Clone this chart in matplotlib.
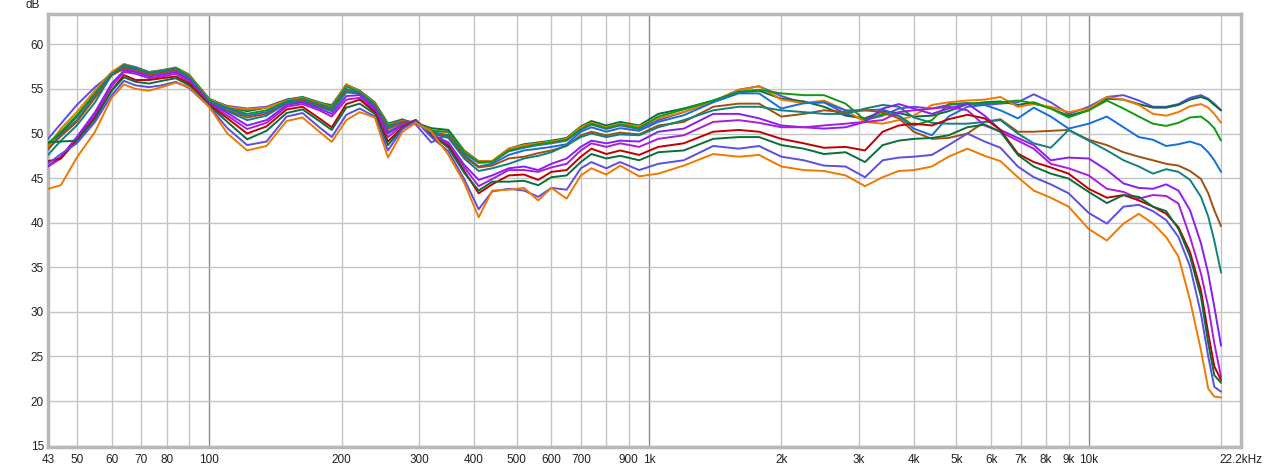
import matplotlib
matplotlib.use("Agg")
import matplotlib.pyplot as plt
from matplotlib.ticker import FixedLocator, NullLocator

# frequency points (Hz) shared by all traces
freqs = [43, 46, 50, 55, 60, 64, 68, 73, 78, 84,
         90, 100, 110, 122, 135, 150, 163, 178, 190, 205,
         220, 238, 255, 275, 295, 320, 350, 380, 410, 440,
         480, 520, 560, 600, 650, 700, 740, 800, 860, 950,
         1050, 1200, 1400, 1600, 1780, 2000, 2250, 2500, 2800, 3100,
         3400, 3700, 4000, 4400, 4800, 5300, 5800, 6300, 6900, 7500,
         8200, 9000, 10000, 11000, 12000, 13000, 14000, 15000, 16000, 17000,
         18000, 18700, 19300, 20000]

# SPL (dB) of each trace
slateblue_a = [49.4, 51.1, 53.2, 55.2, 56.7, 57.2, 57.1, 56.6, 56.8, 57.1,
               56.4, 53.8, 53.1, 52.8, 53.0, 53.8, 54.0, 53.4, 53.2, 55.4,
               54.6, 53.3, 51.1, 51.6, 51.0, 49.0, 49.9, 47.8, 46.7, 46.8,
               48.0, 48.4, 48.7, 48.9, 49.2, 50.4, 51.0, 50.5, 50.9, 50.5,
               51.5, 52.4, 53.6, 54.9, 55.3, 54.2, 53.4, 53.5, 52.2, 51.5,
               52.0, 52.8, 53.0, 52.8, 53.2, 53.4, 53.2, 53.35, 53.5, 54.4,
               53.5, 52.2, 53.0, 54.1, 54.3, 53.7, 53.0, 53.0, 53.3, 54.0,
               54.3, 53.9, 53.35, 52.6]
dkgreen_a = [48.7, 50.0, 51.9, 54.5, 56.7, 57.75, 57.45, 56.9, 57.1, 57.4,
             56.6, 53.9, 53.0, 52.5, 52.9, 53.8, 54.1, 53.5, 53.1, 55.5,
             54.8, 53.5, 51.1, 51.5, 51.2, 50.6, 50.4, 48.1, 46.9, 46.9,
             48.3, 48.8, 49.0, 49.2, 49.5, 50.8, 51.4, 50.9, 51.3, 50.9,
             52.2, 52.8, 53.7, 54.6, 54.8, 53.9, 53.6, 53.0, 52.0, 51.7,
             52.5, 52.3, 51.9, 52.0, 52.5, 53.3, 53.5, 53.6, 53.2, 53.5,
             52.8, 52.0, 52.6, 53.9, 53.8, 53.3, 52.9, 52.9, 53.2, 53.8,
             54.1, 53.8, 53.2, 52.6]
orange_a = [48.5, 50.55, 52.4, 54.85, 56.9, 57.8, 57.4, 56.85, 57.05, 57.35,
            56.5, 53.8, 53.0, 52.7, 52.9, 53.7, 54.0, 53.4, 53.0, 55.5,
            54.7, 53.4, 51.0, 51.4, 51.1, 50.4, 50.1, 48.0, 46.9, 46.9,
            48.3, 48.7, 48.9, 49.1, 49.4, 50.7, 51.2, 50.7, 51.1, 50.8,
            51.7, 52.4, 53.6, 54.9, 55.3, 53.8, 53.4, 53.7, 52.6, 51.3,
            51.1, 51.5, 52.0, 53.2, 53.5, 53.7, 53.8, 54.1, 53.0, 53.3,
            53.0, 52.4, 52.8, 54.1, 53.8, 53.2, 52.2, 52.0, 52.4, 53.05,
            53.3, 52.9, 52.2, 51.2]
green = [48.9, 50.2, 52.05, 54.5, 56.7, 57.55, 57.3, 56.8, 57.0, 57.3,
         56.4, 53.7, 52.9, 52.2, 52.6, 53.6, 53.9, 53.3, 52.9, 55.3,
         54.6, 53.3, 50.9, 51.3, 51.2, 50.3, 50.2, 47.9, 46.8, 46.8,
         48.1, 48.5, 48.8, 49.0, 49.3, 50.5, 51.1, 50.6, 51.0, 50.6,
         51.9, 52.7, 53.7, 54.7, 54.9, 54.5, 54.3, 54.3, 53.35, 51.5,
         52.2, 52.0, 50.9, 51.5, 53.3, 53.4, 53.35, 53.5, 53.7, 53.4,
         52.8, 51.8, 52.6, 53.7, 52.8, 51.9, 51.1, 50.85, 51.2, 51.8,
         51.9, 51.3, 50.6, 49.2]
blue = [48.2, 49.8, 51.5, 54.2, 56.6, 57.45, 57.2, 56.7, 56.9, 57.2,
        56.3, 53.6, 52.8, 52.0, 52.4, 53.5, 53.8, 53.2, 52.7, 55.0,
        54.5, 53.2, 50.7, 51.3, 51.2, 50.2, 49.8, 47.6, 46.3, 46.6,
        47.6, 48.1, 48.3, 48.5, 48.8, 50.2, 50.7, 50.2, 50.6, 50.3,
        51.3, 52.05, 53.5, 54.5, 54.5, 52.8, 53.4, 53.5, 52.6, 52.6,
        52.7, 52.0, 50.55, 49.8, 51.9, 53.0, 53.2, 52.6, 51.7, 52.9,
        51.9, 50.55, 51.1, 51.9, 50.7, 49.6, 49.3, 48.6, 48.8, 49.1,
        48.7, 47.9, 47.0, 45.7]
brown = [48.3, 49.7, 51.3, 54.0, 56.5, 57.3, 57.1, 56.6, 56.8, 57.1,
         56.2, 53.5, 52.6, 51.8, 52.2, 53.4, 53.7, 53.1, 52.6, 54.8,
         54.4, 53.1, 50.5, 51.2, 51.3, 50.1, 49.7, 47.4, 46.2, 46.4,
         47.2, 47.4, 47.8, 48.1, 48.6, 49.8, 50.2, 49.8, 50.1, 49.9,
         50.9, 51.3, 53.0, 53.35, 53.35, 51.9, 52.2, 52.6, 52.4, 52.6,
         52.4, 51.7, 50.2, 49.4, 49.5, 50.0, 51.3, 51.6, 50.2, 50.2,
         50.3, 50.4, 49.3, 48.7, 47.9, 47.4, 47.0, 46.6, 46.4, 45.8,
         44.9, 43.3, 41.4, 39.6]
teal = [47.6, 49.2, 50.9, 53.5, 56.6, 57.7, 57.4, 56.8, 57.0, 57.3,
        56.2, 53.5, 52.5, 51.5, 52.0, 53.4, 53.6, 53.0, 52.5, 54.6,
        54.5, 53.0, 50.2, 51.0, 51.3, 50.0, 49.5, 47.2, 45.8, 46.1,
        46.6, 47.2, 47.5, 47.9, 48.7, 49.6, 50.0, 49.6, 49.9, 49.8,
        50.7, 51.5, 52.6, 53.0, 53.0, 52.6, 52.4, 52.2, 52.2, 52.8,
        53.2, 53.0, 51.8, 51.2, 51.1, 51.1, 51.3, 51.5, 50.0, 48.9,
        48.4, 50.4, 49.2, 48.1, 47.0, 46.3, 45.5, 46.0, 45.7, 44.8,
        42.9, 40.7, 38.0, 34.4]
violet = [46.3, 47.4, 49.6, 52.4, 55.6, 57.05, 56.9, 56.4, 56.6, 56.9,
          56.0, 53.4, 52.3, 50.9, 51.5, 53.2, 53.5, 52.8, 52.2, 54.2,
          54.3, 52.8, 50.0, 51.0, 51.5, 49.9, 49.0, 46.5, 44.8, 45.3,
          46.1, 46.3, 45.9, 46.6, 47.2, 48.5, 49.2, 48.9, 49.2, 49.1,
          50.2, 50.55, 52.2, 52.2, 51.7, 50.9, 50.7, 50.55, 50.7, 51.3,
          52.8, 53.3, 52.8, 52.2, 52.8, 53.35, 52.0, 50.4, 49.5, 48.7,
          47.0, 47.3, 47.2, 45.9, 44.4, 43.9, 43.8, 44.3, 43.6, 41.4,
          37.7, 34.3, 30.6, 26.2]
purple = [46.3, 47.2, 49.4, 52.1, 55.3, 56.9, 56.7, 56.2, 56.4, 56.7,
          55.8, 53.3, 52.0, 50.5, 51.2, 53.0, 53.3, 52.6, 51.9, 53.8,
          54.0, 52.6, 49.6, 50.9, 51.5, 49.8, 48.8, 46.2, 44.1, 44.9,
          45.9, 45.9, 45.7, 46.2, 46.6, 48.1, 48.9, 48.5, 48.9, 48.5,
          49.4, 49.8, 51.3, 51.5, 51.2, 50.7, 50.7, 50.9, 51.1, 51.3,
          51.5, 52.4, 52.6, 52.8, 53.0, 52.6, 50.9, 50.2, 49.2, 48.3,
          46.6, 46.1, 45.3, 43.8, 43.45, 42.7, 43.1, 43.0, 42.15, 38.4,
          34.3, 30.6, 26.5, 22.7]
red = [46.9, 47.2, 49.2, 51.8, 54.85, 56.55, 56.0, 56.0, 56.2, 56.4,
       55.6, 53.2, 51.7, 50.0, 50.8, 52.7, 53.0, 51.7, 50.7, 53.3,
       53.8, 52.4, 49.1, 50.7, 51.5, 49.7, 48.6, 45.8, 43.3, 44.3,
       45.3, 45.4, 44.8, 45.7, 45.9, 47.4, 48.3, 47.7, 48.1, 47.6,
       48.5, 48.9, 50.2, 50.4, 50.2, 49.4, 48.9, 48.4, 48.5, 48.1,
       50.2, 50.9, 51.1, 50.9, 51.6, 52.1, 51.7, 50.4, 47.75, 46.8,
       46.2, 45.5, 43.8, 42.8, 43.1, 42.5, 41.8, 41.0, 39.5, 36.7,
       32.4, 27.6, 23.9, 22.35]
dkgreen_b = [49.0, 49.1, 49.2, 51.6, 54.8, 56.3, 55.8, 55.6, 55.9, 56.2,
             55.4, 53.1, 51.3, 49.35, 50.3, 52.3, 52.7, 51.4, 50.4, 52.9,
             53.35, 52.2, 48.7, 50.6, 51.4, 49.9, 48.4, 45.6, 43.6, 44.6,
             44.6, 44.7, 44.2, 45.1, 45.3, 46.8, 47.7, 47.2, 47.5, 47.0,
             47.9, 48.1, 49.4, 49.6, 49.6, 48.7, 48.3, 47.7, 47.9, 46.8,
             48.7, 49.2, 49.4, 49.5, 49.8, 50.7, 51.0, 50.2, 47.6, 46.3,
             45.5, 44.95, 43.45, 42.2, 43.1, 42.9, 41.8, 41.3, 39.3, 36.2,
             31.7, 26.5, 22.9, 22.05]
slateblue_b = [46.6, 47.7, 48.9, 51.3, 54.3, 55.9, 55.4, 55.2, 55.4, 55.8,
               55.1, 53.0, 50.6, 48.7, 49.1, 51.9, 52.3, 50.7, 49.6, 52.1,
               52.8, 51.9, 48.1, 50.5, 51.4, 49.6, 48.0, 44.9, 41.5, 43.5,
               43.8, 43.6, 42.9, 43.9, 43.7, 46.1, 46.8, 46.1, 46.8, 45.9,
               46.6, 47.0, 48.6, 48.3, 48.6, 47.4, 47.0, 46.4, 46.3, 45.1,
               47.0, 47.3, 47.4, 47.6, 48.7, 50.0, 49.1, 48.4, 46.3, 45.1,
               44.3, 43.3, 41.1, 39.9, 41.8, 42.0, 41.3, 40.3, 38.4, 35.1,
               29.8, 25.0, 21.6, 21.05]
orange_b = [43.8, 44.2, 47.3, 50.2, 54.0, 55.5, 55.0, 54.8, 55.2, 55.7,
            55.2, 53.0, 50.0, 48.1, 48.6, 51.4, 51.8, 50.2, 49.06, 51.5,
            52.4, 51.8, 47.3, 50.2, 51.2, 50.2, 47.6, 44.5, 40.6, 43.6,
            43.7, 43.9, 42.5, 43.9, 42.7, 45.3, 46.1, 45.4, 46.4, 45.2,
            45.5, 46.4, 47.7, 47.4, 47.6, 46.3, 45.9, 45.8, 45.3, 44.1,
            45.1, 45.8, 45.9, 46.3, 47.4, 48.3, 47.5, 46.9, 45.1, 43.6,
            42.8, 41.8, 39.3, 38.0, 39.9, 41.0, 39.9, 38.4, 36.2, 31.3,
            25.7, 21.4, 20.5, 20.4]

traces = [
    (slateblue_a, "#5b4ee0"),
    (dkgreen_a, "#0a6e3c"),
    (orange_a, "#f07800"),
    (green, "#119911"),
    (blue, "#1470d8"),
    (brown, "#a0500f"),
    (teal, "#13807f"),
    (violet, "#8a1ef2"),
    (purple, "#a81ed8"),
    (red, "#c00000"),
    (dkgreen_b, "#0a6e3c"),
    (slateblue_b, "#5b4ee0"),
    (orange_b, "#f07800"),
]

x_ticks = [43, 50, 60, 70, 80, 100, 200, 300, 400, 500, 600, 700, 900,
           1000, 2000, 3000, 4000, 5000, 6000, 7000, 8000, 9000, 10000, 22200]
x_labels = ["43", "50", "60", "70", "80", "100", "200", "300", "400", "500",
            "600", "700", "900", "1k", "2k", "3k", "4k", "5k", "6k", "7k",
            "8k", "9k", "10k", "22.2kHz"]
minor_grid = [50, 60, 70, 80, 90, 200, 300, 400, 500, 600, 700, 800, 900,
              2000, 3000, 4000, 5000, 6000, 7000, 8000, 9000, 20000]
major_grid = [100, 1000, 10000]
y_ticks = [15, 20, 25, 30, 35, 40, 45, 50, 55, 60]

plt.rcParams["font.family"] = ["Liberation Sans", "DejaVu Sans"]

fig = plt.figure(figsize=(12.65, 4.69), dpi=100)
ax = fig.add_axes([48 / 1265, 22 / 469, 1193 / 1265, 433 / 469])

for xv in minor_grid:
    ax.axvline(xv, color="#c4c4c4", lw=1.0, zorder=1)
for xv in major_grid:
    ax.axvline(xv, color="#8c8c8c", lw=1.0, zorder=1)
for yv in y_ticks:
    ax.axhline(yv, color="#c4c4c4", lw=1.0, zorder=1)

for vals, col in traces:
    ax.plot(freqs, vals, color=col, lw=1.4, solid_joinstyle="round",
            solid_capstyle="round", zorder=3)

ax.set_xscale("log")
ax.set_xlim(43, 22200)
ax.set_ylim(14.85, 63.4)
ax.xaxis.set_major_locator(FixedLocator(x_ticks))
ax.xaxis.set_minor_locator(NullLocator())
ax.set_xticklabels(x_labels)
ax.set_yticks(y_ticks)
ax.tick_params(axis="both", length=0, labelsize=8.5, colors="#222222")
ax.tick_params(axis="x", pad=5)
ax.tick_params(axis="y", pad=3)

for sp in ax.spines.values():
    sp.set_color("#b8b8b8")
    sp.set_linewidth(2.5)

fig.text(33 / 1265, 1 - 5 / 469, "dB", ha="center", va="center",
         fontsize=8.5, color="#222222")

fig.savefig("out.png", dpi=100, facecolor="white")
